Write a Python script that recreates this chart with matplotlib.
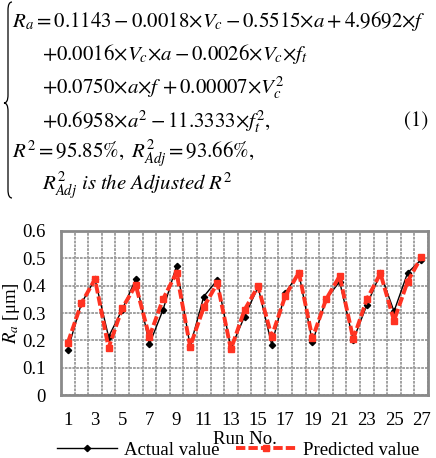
import matplotlib
matplotlib.use("Agg")
import matplotlib.pyplot as plt
from matplotlib.path import Path
from matplotlib.patches import PathPatch
import numpy as np

plt.rcParams['font.family'] = ['Liberation Serif', 'DejaVu Serif']
plt.rcParams['mathtext.fontset'] = 'stix'

runs = list(range(1, 28))
actual = [0.166, 0.335, 0.424, 0.213, 0.312, 0.424, 0.185, 0.311, 0.473, 0.178,
          0.360, 0.421, 0.171, 0.287, 0.395, 0.184, 0.374, 0.445, 0.193, 0.350,
          0.415, 0.201, 0.329, 0.445, 0.306, 0.447, 0.495]
predicted = [0.191, 0.335, 0.424, 0.173, 0.317, 0.402, 0.213, 0.350, 0.448, 0.177,
             0.321, 0.409, 0.167, 0.311, 0.398, 0.214, 0.362, 0.448, 0.207, 0.350,
             0.435, 0.205, 0.350, 0.445, 0.272, 0.415, 0.504]
xtick_vals = list(range(1, 28, 2))
ytick_vals = [0, 0.1, 0.2, 0.3, 0.4, 0.5, 0.6]

W, H = 436, 458
fig = plt.figure(figsize=(W / 100, H / 100), dpi=100)

def fx(x):
    return x / W

def fy(y):
    return 1 - y / H

# ---- equation block ----
eq_fs = 15
T = r'{\times}'
lines = [
    (12, 27, r'$R_a = 0.1143 - 0.0018' + T + r'V_c - 0.5515' + T + r'a + 4.9692' + T + r'f$'),
    (42, 60, r'$+0.0016' + T + r'V_c' + T + r'a - 0.0026' + T + r'V_c' + T + r'f_t$'),
    (42, 93, r'$+0.0750' + T + r'a' + T + r'f\, + 0.00007' + T + r'V_c^2$'),
    (42, 127, r'$+0.6958' + T + r'a^2 - 11.3333' + T + r'f_t^2,$'),
    (12, 158, r'$R^2 = 95.85\%,\ R^2_{Adj} = 93.66\%,$'),
    (42, 190, r'$R^2_{Adj}\ is\ the\ Adjusted\ R^2$'),
]
for x, y, s in lines:
    fig.text(fx(x), fy(y), s, fontsize=eq_fs, ha='left', va='baseline')
fig.text(fx(428), fy(126), '(1)', fontsize=eq_fs, ha='right', va='baseline',
         family='STIXGeneral')

# curly brace
tip = 4
verts = [(12, 2), (8, 2), (8, 10), (8, 95), (8, 103), (tip, 103),
         (8, 103), (8, 111), (8, 190), (8, 198), (12, 198)]
codes = [Path.MOVETO, Path.CURVE3, Path.CURVE3, Path.LINETO, Path.CURVE3, Path.CURVE3,
         Path.CURVE3, Path.CURVE3, Path.LINETO, Path.CURVE3, Path.CURVE3]
verts = [(fx(a), fy(b)) for a, b in verts]
fig.add_artist(PathPatch(Path(verts, codes), transform=fig.transFigure,
                         fill=False, lw=0.9, color='black'))

# ---- chart ----
ax = fig.add_axes([fx(61), fy(395), (428 - 61) / W, (395 - 231) / H])
ax.set_xlim(0.5, 27.5)
ax.set_ylim(0, 0.6)

ax.plot(runs, actual, color='black', lw=1.0, marker='D', markersize=3.2,
        label='Actual value', zorder=3)
ax.plot(runs, predicted, color='#ff3322', lw=2.8, ls=(0, (2.4, 0.8)), marker='s',
        markersize=5, label='Predicted value', zorder=4)

ax.set_xticks(xtick_vals)
ax.set_xticks(np.arange(0.5, 28, 1), minor=True)
ax.set_yticks(ytick_vals)
ax.set_yticklabels(['0', '0.1', '0.2', '0.3', '0.4', '0.5', '0.6'])
ax.tick_params(axis='both', which='both', length=0, labelsize=13.5)
ax.tick_params(axis='x', pad=12)
ax.tick_params(axis='y', pad=11)
ax.grid(axis='x', which='minor', color='#9a9a9a', lw=1.3, ls=(0, (1.5, 0.6)))
ax.grid(axis='y', which='major', color='#9a9a9a', lw=1.3, ls=(0, (1.5, 0.6)))
ax.grid(axis='x', which='major', visible=False)
ax.set_axisbelow(True)
for sp in ax.spines.values():
    sp.set_color('#8a8a8a')
    sp.set_linewidth(2)

ax.set_xlabel('Run No.', fontsize=13.5, labelpad=1.5)
ax.set_ylabel(r'$R_a$ [μm]', fontsize=13.5)
ax.yaxis.set_label_coords((22 - 61) / 367, 0.5)

handles, labels = ax.get_legend_handles_labels()
fig.legend(handles, labels, loc='center', bbox_to_anchor=(fx(238), fy(450)),
           ncol=2, frameon=False, fontsize=13.5, handlelength=3.2,
           handletextpad=0.35, columnspacing=0.9, borderpad=0, borderaxespad=0)

fig.savefig('out.png', dpi=100)
